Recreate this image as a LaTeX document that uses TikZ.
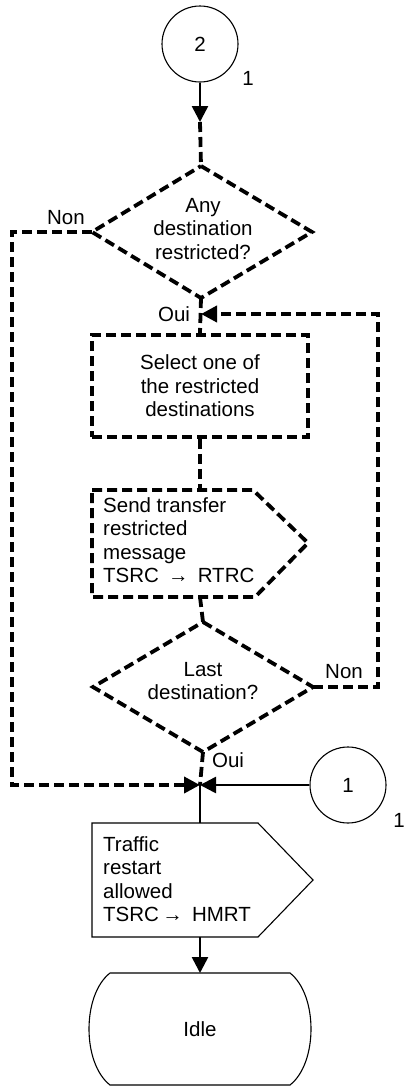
\documentclass[tikz,border=0pt]{standalone}
\usepackage{fontspec}
\setmainfont{Liberation Sans}
\usetikzlibrary{arrows.meta}
\begin{document}
\begin{tikzpicture}[x=1pt,y=-1pt,
 every node/.style={font=\fontsize{20.5}{23.5}\selectfont},
 dashcon/.style={line width=3.8pt,dash pattern=on 10pt off 5pt,line join=miter},
 solidcon/.style={line width=2.6pt},
 outline/.style={line width=1.1pt},
 tip/.style={-{Triangle[length=16pt,width=16pt]}},
 lbl/.style={inner sep=0pt},
 txt/.style={inner sep=0pt,align=center},
 ltxt/.style={inner sep=0pt,align=left,anchor=west}]
\useasboundingbox (0,0) rectangle (406,1087);

% connector 2
\node[circle,draw,outline,minimum size=76pt,inner sep=0pt] (c2) at (200,44) {2};
\node[lbl] (c2lab) at (248,78) {1};
\coordinate (mid1) at (200,122);
\draw[solidcon,tip] (c2.south) -- (mid1);

% decision 1
\coordinate (d1t) at (201,166);
\coordinate (d1l) at (92,232);
\coordinate (d1r) at (312,232);
\coordinate (d1b) at (201,298);
\draw[dashcon] (d1t) -- (d1r) -- (d1b) -- (d1l) -- cycle;
\node[txt] (d1) at (203,229) {Any\\destination\\restricted?};
\draw[dashcon] (mid1) -- (d1t);

% Non branch of decision 1
\coordinate (lc1) at (12,232);
\coordinate (lc2) at (12,785);
\coordinate (junc) at (200,785);
\draw[dashcon,tip] (d1l) -- (lc1) -- (lc2) -- (junc);
\node[lbl] (non1) at (66,218) {Non};

% Oui of decision 1 and loop entry
\node[lbl] (oui1) at (174,314) {Oui};
\coordinate (loopin) at (201,314);

% select box
\node[draw,dashcon,minimum width=216pt,minimum height=102pt,align=center,inner sep=0pt] (box1) at (200,386) {Select one of\\the restricted\\destinations};
\draw[dashcon] (d1b) -- (box1.north);

% send signal 1
\coordinate (s1tl) at (92,490);
\coordinate (s1top) at (200,490);
\coordinate (s1tr) at (253,490);
\coordinate (s1p) at (308,543);
\coordinate (s1br) at (255,597);
\coordinate (s1bot) at (200,597);
\coordinate (s1bl) at (92,597);
\draw[dashcon] (s1tl) -- (s1tr) -- (s1p) -- (s1br) -- (s1bl) -- cycle;
\node[ltxt] (send1) at (103,540) {Send transfer\\restricted\\message\\TSRC $\,$→$\,$ RTRC};
\draw[dashcon] (box1.south) -- (s1top);

% decision 2
\coordinate (d2t) at (203,622);
\coordinate (d2l) at (93,687);
\coordinate (d2r) at (313,687);
\coordinate (d2b) at (203,752);
\draw[dashcon] (d2t) -- (d2r) -- (d2b) -- (d2l) -- cycle;
\node[txt] (d2) at (203,681) {Last\\destination?};
\draw[dashcon] (s1bot) -- (d2t);

% Non loop
\coordinate (rc2) at (378,687);
\coordinate (rc1) at (378,314);
\draw[dashcon,tip] (d2r) -- (rc2) -- (rc1) -- (loopin);
\node[lbl] (non2) at (344,672) {Non};

% Oui of decision 2
\node[lbl] (oui2) at (228,760) {Oui};
\draw[dashcon] (d2b) -- (junc);

% connector 1
\node[circle,draw,outline,minimum size=76pt,inner sep=0pt] (c1) at (348,785) {1};
\node[lbl] (c1lab) at (399,820) {1};
\draw[solidcon,tip] (c1.west) -- (junc);

% send signal 2
\coordinate (t1tl) at (92,823);
\coordinate (t1top) at (200,823);
\coordinate (t1tr) at (258,823);
\coordinate (t1p) at (313,880);
\coordinate (t1br) at (258,937);
\coordinate (t1bot) at (200,937);
\coordinate (t1bl) at (92,937);
\draw[outline] (t1tl) -- (t1tr) -- (t1p) -- (t1br) -- (t1bl) -- cycle;
\node[ltxt] (send2) at (103,879) {Traffic\\restart\\allowed\\TSRC$\,$→$\,$ HMRT};
\draw[solidcon] (junc) -- (t1top);

% idle state
\coordinate (itl) at (110,973);
\coordinate (itop) at (200,973);
\coordinate (itr) at (290,973);
\coordinate (ibr) at (290,1085);
\coordinate (ibl) at (110,1085);
\draw[outline] (itl) -- (itr) .. controls (318,995) and (318,1063) .. (ibr) -- (ibl) .. controls (82,1063) and (82,995) .. (itl);
\node[txt] (idle) at (200,1029) {Idle};
\draw[solidcon,tip] (t1bot) -- (itop);
\end{tikzpicture}
\end{document}
